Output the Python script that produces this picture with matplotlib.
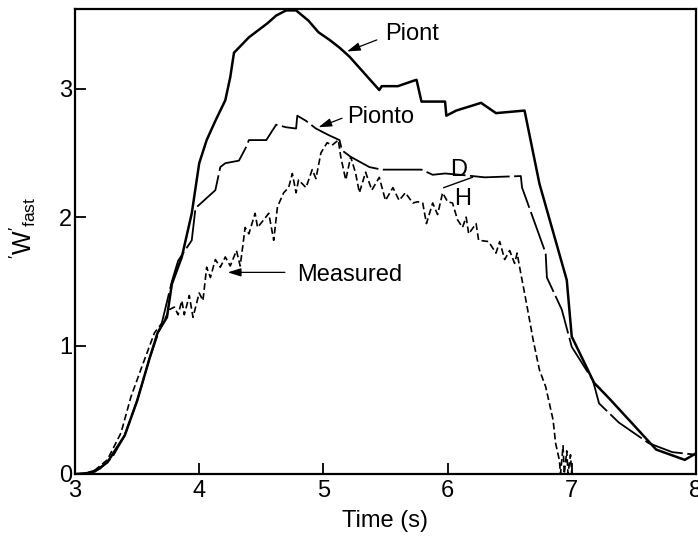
import matplotlib
matplotlib.use("Agg")
import matplotlib.pyplot as plt

plt.rcParams['font.family'] = ['Liberation Sans', 'DejaVu Sans']

# ---- data ----
piont_t = [3.0, 3.08, 3.16, 3.26, 3.34, 3.40, 3.50, 3.60, 3.665, 3.74, 3.78, 3.86, 3.94, 4.0,
           4.06, 4.13, 4.21, 4.25, 4.28, 4.40, 4.55, 4.62, 4.70, 4.78, 4.88, 4.96, 5.05, 5.13,
           5.21, 5.33, 5.45, 5.47, 5.60, 5.75, 5.79, 5.98, 5.99, 6.07, 6.27, 6.39, 6.62, 6.74,
           6.96, 7.0, 7.18, 7.30, 7.50, 7.68, 7.91, 8.0]
piont_w = [0.0, 0.0, 0.02, 0.09, 0.21, 0.30, 0.57, 0.90, 1.10, 1.22, 1.48, 1.69, 2.03, 2.42,
           2.60, 2.75, 2.91, 3.09, 3.28, 3.40, 3.51, 3.57, 3.61, 3.61, 3.53, 3.44, 3.38, 3.32,
           3.25, 3.12, 2.99, 3.02, 3.02, 3.07, 2.90, 2.90, 2.79, 2.83, 2.89, 2.81, 2.83, 2.26,
           1.51, 1.07, 0.71, 0.59, 0.38, 0.19, 0.11, 0.16]

pionto_t = [3.0, 3.1, 3.2, 3.3, 3.40, 3.5, 3.6, 3.7, 3.78, 3.83, 3.94, 3.97, 4.13, 4.17, 4.21,
            4.32, 4.38, 4.40, 4.54, 4.62, 4.70, 4.78, 4.79, 4.86, 4.94, 5.04, 5.13, 5.15, 5.22,
            5.37, 5.47, 5.66, 5.79, 5.88, 5.98, 6.10, 6.30, 6.59, 6.60, 6.79, 6.80, 6.92, 7.0,
            7.17, 7.22, 7.38, 7.62, 7.81, 8.0]
pionto_w = [0.0, 0.01, 0.04, 0.13, 0.30, 0.57, 0.90, 1.18, 1.50, 1.66, 1.82, 2.07, 2.21, 2.39,
            2.42, 2.44, 2.55, 2.60, 2.60, 2.72, 2.70, 2.69, 2.79, 2.75, 2.69, 2.64, 2.60, 2.52,
            2.47, 2.39, 2.37, 2.37, 2.37, 2.33, 2.34, 2.33, 2.31, 2.32, 2.23, 1.72, 1.53, 1.28,
            0.99, 0.73, 0.55, 0.40, 0.24, 0.17, 0.15]

meas_t = [3.0, 3.08, 3.16, 3.26, 3.37, 3.45, 3.54, 3.64, 3.72, 3.76, 3.80, 3.83, 3.86, 3.88,
          3.92, 3.95, 4.0, 4.03, 4.06, 4.09, 4.13, 4.17, 4.21, 4.25, 4.30, 4.33, 4.37, 4.40,
          4.45, 4.47, 4.52, 4.56, 4.60, 4.63, 4.68, 4.72, 4.75, 4.78, 4.80, 4.86, 4.91, 4.94,
          4.98, 5.03, 5.07, 5.12, 5.14, 5.18, 5.22, 5.26, 5.29, 5.34, 5.39, 5.45, 5.50, 5.56,
          5.61, 5.66, 5.72, 5.76, 5.80, 5.83, 5.88, 5.92, 5.96, 6.0, 6.04, 6.08, 6.12, 6.15,
          6.17, 6.23, 6.25, 6.33, 6.39, 6.42, 6.46, 6.50, 6.54, 6.56, 6.59, 6.62, 6.66, 6.69,
          6.74, 6.79, 6.85, 6.87, 6.90, 6.91, 6.93, 6.94, 6.96, 6.97, 6.99, 7.0]
meas_w = [0.0, 0.0, 0.03, 0.11, 0.32, 0.60, 0.84, 1.10, 1.20, 1.28, 1.30, 1.24, 1.35, 1.24,
          1.39, 1.22, 1.41, 1.35, 1.61, 1.53, 1.67, 1.61, 1.69, 1.62, 1.74, 1.62, 1.92, 1.87,
          2.03, 1.92, 1.98, 2.03, 1.82, 2.08, 2.19, 2.23, 2.34, 2.19, 2.29, 2.23, 2.37, 2.30,
          2.50, 2.58, 2.56, 2.60, 2.47, 2.29, 2.47, 2.34, 2.19, 2.35, 2.21, 2.31, 2.13, 2.23,
          2.13, 2.19, 2.11, 2.12, 2.11, 1.95, 2.11, 2.02, 2.19, 2.12, 2.11, 1.98, 1.92, 2.00,
          1.87, 1.95, 1.82, 1.81, 1.72, 1.81, 1.67, 1.74, 1.64, 1.72, 1.56, 1.41, 1.20, 1.04,
          0.81, 0.68, 0.42, 0.24, 0.11, 0.0, 0.22, 0.0, 0.18, 0.0, 0.15, 0.0]

xticks = [3, 4, 5, 6, 7, 8]
yticks = [0, 1, 2, 3]

# ---- figure ----
fig = plt.figure(figsize=(6.98, 5.36), dpi=100)
ax = fig.add_axes([0.1075, 0.1157, 0.997 - 0.1075, 0.983 - 0.1157])

ax.plot(piont_t, piont_w, color='black', lw=1.8, solid_joinstyle='round')
ax.plot(pionto_t, pionto_w, color='black', lw=1.3, dashes=(22, 2.5))
ax.plot(meas_t, meas_w, color='black', lw=1.2, dashes=(4, 2))

ax.set_xlim(3, 8)
ax.set_ylim(0, 3.62)
ax.set_xticks(xticks)
ax.set_yticks(yticks)
ax.tick_params(direction='in', length=8, width=1.3, labelsize=17, colors='black')
ax.tick_params(axis='x', pad=4)
ax.tick_params(axis='y', pad=2)
for s in ax.spines.values():
    s.set_linewidth(1.6)
    s.set_color('black')

ax.set_xlabel('Time (s)', fontsize=17)
ax.xaxis.set_label_coords(0.5, -0.078)
ax.set_ylabel(r"$\mathregular{'W'_{fast}}$", fontsize=18)
ax.yaxis.set_label_coords(-0.06, 0.53)

arrow = dict(arrowstyle='-|>,head_length=0.8,head_width=0.25', color='black', lw=0.9,
             shrinkA=0, shrinkB=0)
fs = 17
ax.annotate('', xy=(5.19, 3.29), xytext=(5.43, 3.38), arrowprops=arrow)
ax.text(5.50, 3.43, 'Piont', fontsize=fs, va='center', ha='left')
ax.annotate('', xy=(4.96, 2.70), xytext=(5.15, 2.77), arrowprops=arrow)
ax.text(5.19, 2.78, 'Pionto', fontsize=fs, va='center', ha='left')
ax.annotate('', xy=(4.23, 1.57), xytext=(4.69, 1.57), arrowprops=arrow)
ax.text(4.79, 1.55, 'Measured', fontsize=fs, va='center', ha='left')
ax.plot([6.20, 5.97], [2.31, 2.23], color='black', lw=1.0)
ax.text(6.09, 2.37, 'D', fontsize=fs, va='center', ha='center')
ax.text(6.12, 2.14, 'H', fontsize=fs, va='center', ha='center')

fig.savefig('out.png', dpi=100)
